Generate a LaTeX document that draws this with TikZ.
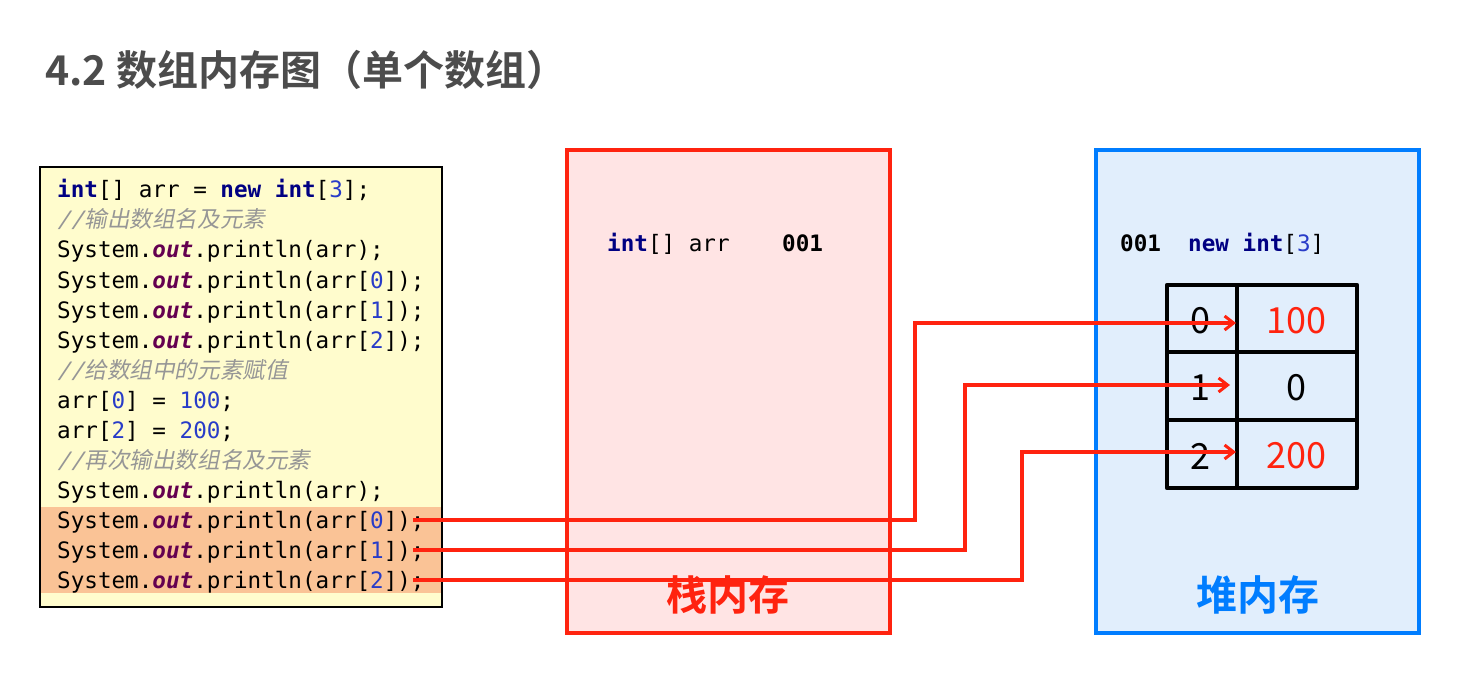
\documentclass[tikz,border=0pt]{standalone}
\usepackage{fontspec}
\setmonofont{DejaVu Sans Mono}
\newfontfamily\cjk{Noto Sans CJK SC}
\newfontfamily\cjkb{Noto Sans CJK SC Bold}
\newfontfamily\cjkit{Noto Sans CJK SC}[FakeSlant=0.2]
\newfontfamily\monoit{DejaVu Sans Mono}[FakeSlant=0.2]
\definecolor{kw}{RGB}{0,0,130}
\definecolor{num}{RGB}{40,60,200}
\definecolor{outc}{RGB}{100,0,80}
\definecolor{cmt}{RGB}{150,150,150}
\definecolor{redl}{RGB}{255,35,15}
\definecolor{bluel}{RGB}{0,125,255}
\definecolor{heapbg}{RGB}{225,238,252}
\definecolor{stackbg}{RGB}{255,228,228}
\definecolor{codebg}{RGB}{255,252,205}
\definecolor{hilite}{RGB}{250,195,150}
\newcommand{\K}[1]{{\bfseries\color{kw}#1}}
\newcommand{\N}[1]{{\color{num}#1}}
\newcommand{\OUT}{{\bfseries\itshape\color{outc}out}}
\newcommand{\CM}[1]{{\color{cmt}\monoit //\cjkit #1}}
\usetikzlibrary{arrows.meta}
\begin{document}
\begin{tikzpicture}[x=1pt,y=-1pt,
  code/.style={anchor=base west,inner sep=0pt,font=\ttfamily\fontsize{22.6}{22.6}\selectfont},
  idx/.style={font=\cjk\fontsize{36}{36}\selectfont},
  conn/.style={draw=redl,line width=3.5pt,-{Straight Barb[length=9pt,width=14pt,line width=3pt]}}]
\useasboundingbox (0,0) rectangle (1465,687);
\node[anchor=west,inner sep=0pt,text=black!70,font=\cjkb\fontsize{41}{41}\selectfont] (title) at (45,70) {4.2 数组内存图（单个数组）};
% code box
\fill[codebg] (40,167) rectangle (442,607);
\fill[hilite] (40,507) rectangle (442,593);
\draw[line width=2pt] (40,167) rectangle (442,607);
\node[code] (l1) at (57,198) {\K{int}[] arr = \K{new} \K{int}[\N{3}];};
\node[code] (l2) at (57,228) {\CM{输出数组名及元素}};
\node[code] (l3) at (57,258) {System.\OUT.println(arr);};
\node[code] (l4) at (57,288) {System.\OUT.println(arr[\N{0}]);};
\node[code] (l5) at (57,318) {System.\OUT.println(arr[\N{1}]);};
\node[code] (l6) at (57,348) {System.\OUT.println(arr[\N{2}]);};
\node[code] (l7) at (57,378) {\CM{给数组中的元素赋值}};
\node[code] (l8) at (57,408) {arr[\N{0}] = \N{100};};
\node[code] (l9) at (57,438) {arr[\N{2}] = \N{200};};
\node[code] (l10) at (57,468) {\CM{再次输出数组名及元素}};
\node[code] (l11) at (57,498) {System.\OUT.println(arr);};
\node[code] (l12) at (57,528) {System.\OUT.println(arr[\N{0}]);};
\node[code] (l13) at (57,558) {System.\OUT.println(arr[\N{1}]);};
\node[code] (l14) at (57,588) {System.\OUT.println(arr[\N{2}]);};
% stack
\draw[draw=redl,fill=stackbg,line width=4.5pt] (567,150) rectangle (890,633);
\node[code] (sv) at (607,252) {\K{int}[] arr};
\node[code] (sa) at (782,252) {\textbf{001}};
\node[text=redl,font=\cjkb\fontsize{41}{41}\selectfont] (stk) at (728,595) {栈内存};
% heap
\draw[draw=bluel,fill=heapbg,line width=4.5pt] (1096,150) rectangle (1419,633);
\node[code] (hv) at (1120,252) {\textbf{001}\ \ \K{new} \K{int}[\N{3}]};
\node[text=bluel,font=\cjkb\fontsize{41}{41}\selectfont] (hp) at (1258,595) {堆内存};
\draw[line width=4.5pt,line join=round] (1167,285) rectangle (1357,488);
\draw[line width=4.5pt] (1237,285) -- (1237,488) (1167,352) -- (1357,352) (1167,420) -- (1357,420);
\node[idx] (i0) at (1200,321) {0};
\node[idx] (i1) at (1200,388) {1};
\node[idx] (i2) at (1200,456) {2};
\node[idx,text=redl] (v0) at (1296,321) {100};
\node[idx] (v1) at (1296,388) {0};
\node[idx,text=redl] (v2) at (1296,456) {200};
\coordinate (t0) at (1236,323);
\coordinate (t1) at (1230,385);
\coordinate (t2) at (1236,452);
\draw[conn] (l12.base east) ++(-12,-8) -- (915,520) |- (t0);
\draw[conn] (l13.base east) ++(-12,-8) -- (965,550) |- (t1);
\draw[conn] (l14.base east) ++(-12,-8) -- (1022,580) |- (t2);
\end{tikzpicture}
\end{document}
